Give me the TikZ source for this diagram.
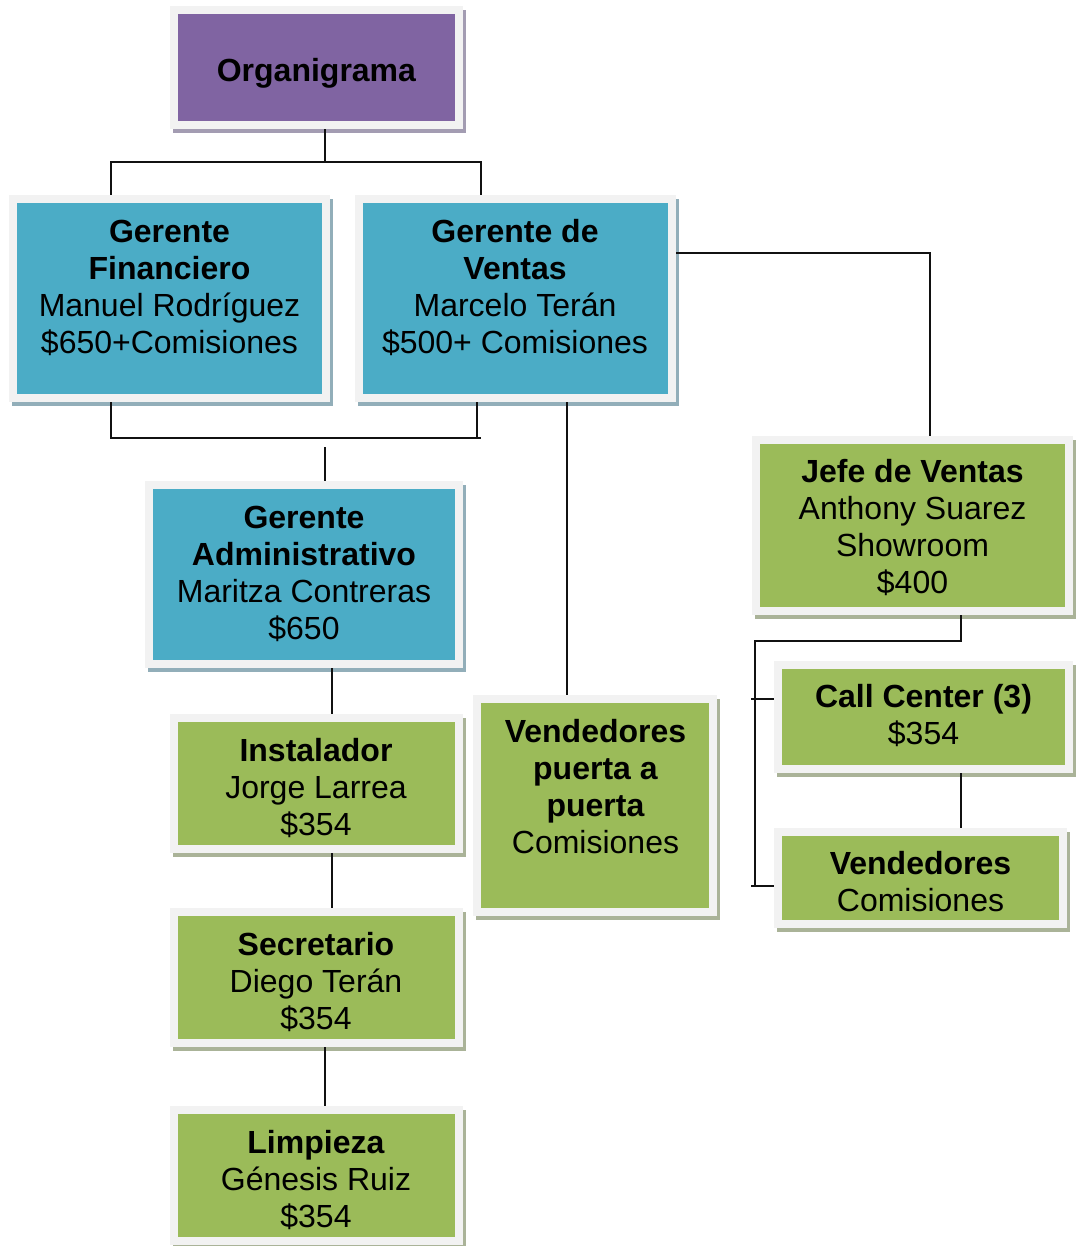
\documentclass[tikz,border=0pt]{standalone}
\usepackage{fontspec}
\setmainfont{Liberation Sans}
\usetikzlibrary{fit}

\definecolor{frameGray}{HTML}{F2F2F2}
\definecolor{orgPurple}{HTML}{8064A2}
\definecolor{orgBlue}{HTML}{4BACC6}
\definecolor{orgGreen}{HTML}{9BBB59}
\definecolor{shPurple}{HTML}{A39CB2}
\definecolor{shBlue}{HTML}{92AEB9}
\definecolor{shGreen}{HTML}{AAB398}
\definecolor{lineBlack}{HTML}{111111}

\tikzset{
  conn/.style={line width=2.2pt, draw=lineBlack},
  txt/.style={font=\fontsize{32}{37}\selectfont, align=center, inner sep=0pt},
  boxframe/.style={fill=frameGray, inner sep=0pt},
}

% box: name, x1, y1, x2, y2, fill colour, shadow colour
\newcommand\orgbox[7]{%
  \fill[#7] (#2+3,#3+4) rectangle (#4+3,#5+4);
  \node[fit={(#2,#3)(#4,#5)}, boxframe] (#1) {};
  \fill[#6] (#2+8,#3+8) rectangle (#4-8,#5-8);
}

\begin{document}
\begin{tikzpicture}[x=1pt, y=-1pt]
  \fill[white] (0,0) rectangle (1079,1246);
  \useasboundingbox (0,0) rectangle (1079,1246);

  % boxes
  \orgbox{org}{170}{6}{463}{129}{orgPurple}{shPurple}
  \orgbox{fin}{9}{195}{330}{402}{orgBlue}{shBlue}
  \orgbox{ven}{355}{195}{676}{402}{orgBlue}{shBlue}
  \orgbox{adm}{145}{481}{463}{668}{orgBlue}{shBlue}
  \orgbox{jefe}{752}{436}{1073}{615}{orgGreen}{shGreen}
  \orgbox{inst}{170}{714}{463}{853}{orgGreen}{shGreen}
  \orgbox{puerta}{473}{695}{717}{916}{orgGreen}{shGreen}
  \orgbox{call}{774}{661}{1073}{773}{orgGreen}{shGreen}
  \orgbox{vend}{774}{828}{1067}{928}{orgGreen}{shGreen}
  \orgbox{sec}{170}{908}{463}{1047}{orgGreen}{shGreen}
  \orgbox{limp}{170}{1106}{463}{1245}{orgGreen}{shGreen}

  % texts
  \node[txt] (org-t) at (316.5,74) {\strut\textbf{Organigrama}};
  \node[txt] (fin-t) at (169.5,290.5) {\strut\textbf{Gerente}\\\strut\textbf{Financiero}\\\strut Manuel Rodríguez\\\strut\$650+Comisiones};
  \node[txt] (ven-t) at (515,290.5) {\strut\textbf{Gerente de}\\\strut\textbf{Ventas}\\\strut Marcelo Terán\\\strut\$500+ Comisiones};
  \node[txt] (adm-t) at (304,576.5) {\strut\textbf{Gerente}\\\strut\textbf{Administrativo}\\\strut Maritza Contreras\\\strut\$650};
  \node[txt] (jefe-t) at (912.5,530.5) {\strut\textbf{Jefe de Ventas}\\\strut Anthony Suarez\\\strut Showroom\\\strut\$400};
  \node[txt] (inst-t) at (316,791) {\strut\textbf{Instalador}\\\strut Jorge Larrea\\\strut\$354};
  \node[txt] (puerta-t) at (595.5,791) {\strut\textbf{Vendedores}\\\strut\textbf{puerta a}\\\strut\textbf{puerta}\\\strut Comisiones};
  \node[txt] (call-t) at (923.5,719) {\strut\textbf{Call Center (3)}\\\strut\$354};
  \node[txt] (vend-t) at (920.5,886) {\strut\textbf{Vendedores}\\\strut Comisiones};
  \node[txt] (sec-t) at (316,985) {\strut\textbf{Secretario}\\\strut Diego Terán\\\strut\$354};
  \node[txt] (limp-t) at (316,1183) {\strut\textbf{Limpieza}\\\strut Génesis Ruiz\\\strut\$354};

  % connector positions
  \coordinate (xTop) at (325,162);
  \coordinate (xFin) at (111,0);
  \coordinate (xVen) at (481,0);
  \coordinate (busL) at (111,438);
  \coordinate (busR) at (481,438);
  \coordinate (xVen2) at (477,0);
  \coordinate (admIn) at (325,447);
  \coordinate (vj) at (930,253);
  \coordinate (xP) at (567,0);
  \coordinate (xA) at (332,0);
  \coordinate (xS) at (325,0);
  \coordinate (jb) at (961,641);
  \coordinate (rail) at (755,641);
  \coordinate (tick1) at (751,699);
  \coordinate (tick2) at (751,886);

  % connectors
  \draw[conn] (org.south -| xTop) -- (xTop);
  \draw[conn] (fin.north -| xFin) |- (xTop) -| (ven.north -| xVen);
  \draw[conn] (fin.south -| busL) -- (busL) -- (busR);
  \draw[conn] (ven.south -| xVen2) -- (xVen2 |- busL);
  \draw[conn] (admIn) -- (adm.north -| admIn);
  \draw[conn] (ven.east |- vj) -- (vj) -- (jefe.north -| vj);
  \draw[conn] (ven.south -| xP) -- (puerta.north -| xP);
  \draw[conn] (adm.south -| xA) -- (inst.north -| xA);
  \draw[conn] (inst.south -| xA) -- (sec.north -| xA);
  \draw[conn] (sec.south -| xS) -- (limp.north -| xS);
  \draw[conn] (jefe.south -| jb) -- (jb) -- (rail) -- (rail |- tick2);
  \draw[conn] (tick1) -- (call.west |- tick1);
  \draw[conn] (tick2) -- (vend.west |- tick2);
  \draw[conn] (call.south -| jb) -- (vend.north -| jb);
\end{tikzpicture}
\end{document}
